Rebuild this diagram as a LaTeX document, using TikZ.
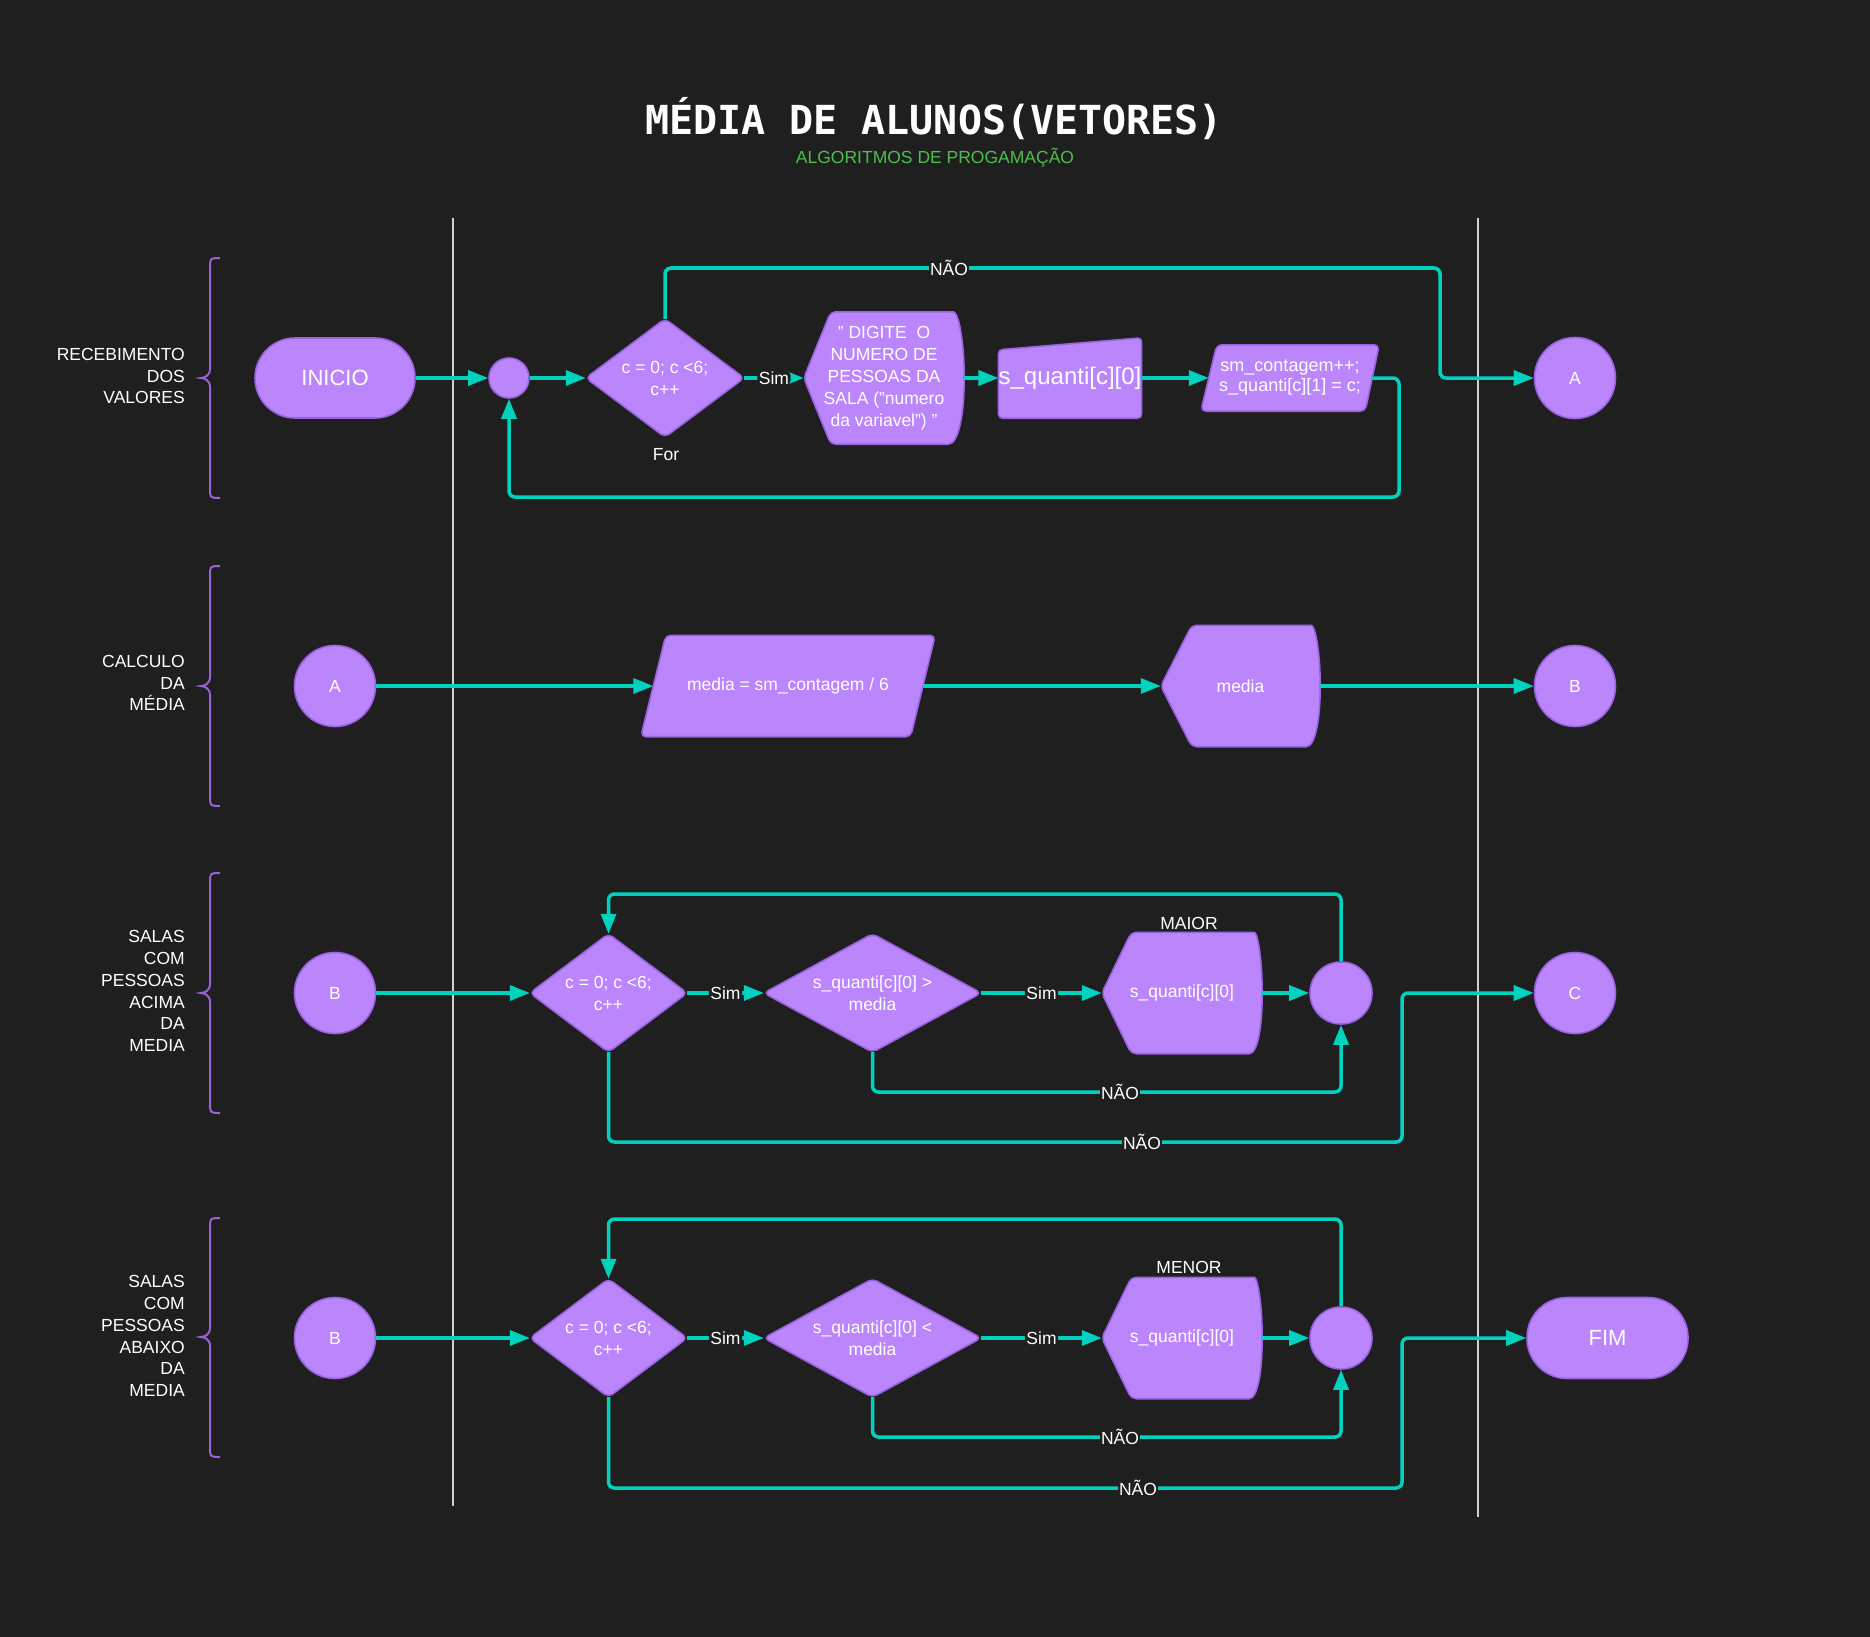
\documentclass[tikz,border=0pt]{standalone}
\usepackage{fontspec}
\setmainfont{Liberation Sans}
\newfontfamily\titlefont{DejaVu Sans Mono}
\usetikzlibrary{arrows.meta,calc}
\pgfdeclarelayer{back}
\pgfdeclarelayer{shp}
\pgfsetlayers{back,shp,main}
\definecolor{bgc}{HTML}{1F1F1F}
\definecolor{shfill}{HTML}{BB86FC}
\definecolor{shline}{HTML}{9B63E3}
\definecolor{tealc}{HTML}{00D2BE}
\definecolor{bracec}{HTML}{9A62D6}
\definecolor{subg}{HTML}{4CC04C}
\definecolor{divc}{HTML}{D0D0D0}
\tikzset{
 shapestyle/.style={fill=shfill, draw=shline, line width=1.6pt, line join=round},
 box/.style={inner sep=0pt, text=white, font=\fontsize{17.5}{22}\selectfont, align=center},
 conn/.style={draw=tealc, line width=3.5pt, rounded corners=6pt, -{Triangle[length=20pt,width=15pt]}},
 lbl/.style={fill=bgc, text=white, inner sep=1.5pt, font=\fontsize{17.5}{20}\selectfont},
 lanelbl/.style={anchor=east, align=right, inner sep=0pt, text=white, font=\fontsize{17.5}{21.8}\selectfont},
 bracestyle/.style={draw=bracec, line width=2pt},
 divider/.style={draw=divc, line width=2pt},
}
\newcommand\dispshape[3]{%
\begin{pgfonlayer}{shp}
\draw[shapestyle, rounded corners=5pt] (#1.west) -- ([xshift=#2pt]#1.north west) -- ([xshift=-#3pt]#1.north east) [sharp corners] .. controls ([xshift=-0.35*#3pt]#1.north east) and ($(#1.east)!0.55!(#1.north east)$) .. (#1.east) .. controls ($(#1.east)!0.55!(#1.south east)$) and ([xshift=-0.35*#3pt]#1.south east) .. ([xshift=-#3pt]#1.south east) [rounded corners=5pt] -- ([xshift=#2pt]#1.south west) -- cycle;
\end{pgfonlayer}}
\newcommand\parashape[3]{%
\begin{pgfonlayer}{shp}
\draw[shapestyle, rounded corners=5pt] ([xshift=#2pt]#1.north west) -- (#1.north east) -- ([xshift=-#3pt]#1.south east) -- (#1.south west) -- cycle;
\end{pgfonlayer}}
\newcommand\diashape[1]{%
\begin{pgfonlayer}{shp}
\draw[shapestyle, rounded corners=5pt] (#1.west) -- (#1.north) -- (#1.east) -- (#1.south) -- cycle;
\end{pgfonlayer}}
\newcommand\lanebrace[3]{%
\draw[bracestyle] (220,#1) .. controls (210,#1) .. (210,#1+10) -- (210,#3-9) .. controls (210,#3-2) and (204,#3) .. (201,#3) .. controls (204,#3) and (210,#3+2) .. (210,#3+9) -- (210,#2-10) .. controls (210,#2) .. (220,#2);}
\begin{document}
\begin{tikzpicture}[x=1pt,y=-1pt]
\begin{pgfonlayer}{back}
\fill[bgc] (0,0) rectangle (1870,1637);
\end{pgfonlayer}
\useasboundingbox (0,0) rectangle (1870,1637);

% title
\node[text=white, inner sep=0pt, font=\titlefont\bfseries\fontsize{40}{44}\selectfont] (title) at (934,119) {MÉDIA DE ALUNOS(VETORES)};
\node[text=subg, inner sep=0pt, font=\fontsize{17.5}{20}\selectfont] (sub) at (935,158) {ALGORITMOS DE PROGAMAÇÃO};

% dividers
\draw[divider] (453,218) -- (453,1506);
\draw[divider] (1478,218) -- (1478,1517);

% lane labels and braces
\node[lanelbl] (l1) at (185,376) {RECEBIMENTO\\DOS\\VALORES};
\node[lanelbl] (l2) at (185,683) {CALCULO\\DA\\MÉDIA};
\node[lanelbl] (l3) at (185,991) {SALAS\\COM\\PESSOAS\\ACIMA\\DA\\MEDIA};
\node[lanelbl] (l4) at (185,1336) {SALAS\\COM\\PESSOAS\\ABAIXO\\DA\\MEDIA};
\lanebrace{258}{498}{378}
\lanebrace{566}{806}{686}
\lanebrace{873}{1113}{993}
\lanebrace{1218}{1457}{1337}

% ---------- lane 1 ----------
\node[shapestyle, box, rounded corners=40pt, minimum width=160pt, minimum height=80pt, font=\fontsize{22}{26}\selectfont] (inicio) at (335,378) {INICIO};
\node[shapestyle, circle, minimum size=40pt, inner sep=0pt] (j1) at (509,378) {};
\node[box, minimum width=158pt, minimum height=118pt] (d1) at (665,378) {c = 0; c <6;\\c++};
\diashape{d1}
\node[box] (for) at (666,455) {For};
\node[box, minimum width=160pt, minimum height=132pt] (disp1) at (884,378) {"~DIGITE~ O\\NUMERO DE\\PESSOAS DA\\SALA ("numero\\da variavel") "};
\dispshape{disp1}{27}{16}
\node[box, minimum width=142pt, minimum height=80pt, font=\fontsize{24}{28}\selectfont] (inp1) at (1070,378) {s\_quanti[c][0]};
\begin{pgfonlayer}{shp}
\draw[shapestyle, rounded corners=4pt] ([yshift=-12pt]inp1.north west) -- (inp1.north east) -- (inp1.south east) -- (inp1.south west) -- cycle;
\end{pgfonlayer}
\node[box, minimum width=178pt, minimum height=66pt, font=\fontsize{18}{20}\selectfont] (par1) at (1290,378) {sm\_contagem++;\\s\_quanti[c][1] = c;};
\parashape{par1}{16}{14}
\node[shapestyle, box, circle, minimum size=81pt] (a1) at (1575,378) {A};

\draw[conn] (inicio.east) -- (j1.west);
\draw[conn] (j1.east) -- (d1.west);
\draw[conn] (d1.east) -- node[lbl]{Sim} (disp1.west);
\draw[conn] (disp1.east) -- (inp1.west);
\draw[conn] (inp1.east) -- ([xshift=8pt]par1.west);
\coordinate (r1) at (1440,268);
\draw[conn] (d1.north) |- (r1) |- (a1.west);
\node[lbl] (nao1) at (949,268) {NÃO};
\coordinate (r1b) at (1399,497);
\draw[conn] ([xshift=-7pt]par1.east) -| (r1b) -| (j1.south);

% ---------- lane 2 ----------
\node[shapestyle, box, circle, minimum size=81pt] (a2) at (335,686) {A};
\node[box, minimum width=294pt, minimum height=101pt] (par2) at (788,686) {media = sm\_contagem / 6};
\parashape{par2}{25}{24.5}
\node[box, minimum width=159pt, minimum height=121pt] (disp2) at (1240.5,686) {media};
\dispshape{disp2}{31}{14}
\node[shapestyle, box, circle, minimum size=81pt] (b2) at (1575,686) {B};
\draw[conn] (a2.east) -- ([xshift=12.5pt]par2.west);
\draw[conn] ([xshift=-12.5pt]par2.east) -- (disp2.west);
\draw[conn] (disp2.east) -- (b2.west);

% ---------- lane 3 ----------
\node[shapestyle, box, circle, minimum size=81pt] (b3) at (335,993) {B};
\node[box, minimum width=157pt, minimum height=118pt] (d3a) at (608.5,993) {c = 0; c <6;\\c++};
\diashape{d3a}
\node[box, minimum width=217pt, minimum height=118pt] (d3b) at (872.5,993) {s\_quanti[c][0] >\\media};
\diashape{d3b}
\node[box, minimum width=160pt, minimum height=121pt] (disp3) at (1182,993) {s\_quanti[c][0]};
\dispshape{disp3}{29.5}{13}
\node[box] (maior) at (1189,923) {MAIOR};
\node[shapestyle, circle, minimum size=62pt, inner sep=0pt] (j3) at (1341,993) {};
\node[shapestyle, box, circle, minimum size=81pt] (c3) at (1575,993) {C};
\draw[conn] (b3.east) -- (d3a.west);
\draw[conn] (d3a.east) -- node[lbl]{Sim} (d3b.west);
\draw[conn] (d3b.east) -- node[lbl]{Sim} (disp3.west);
\draw[conn] (disp3.east) -- (j3.west);
\coordinate (t3) at (1341,894);
\draw[conn] (j3.north) -- (t3) -| (d3a.north);
\coordinate (n3) at (1341,1092);
\draw[conn] (d3b.south) |- (n3) -- (j3.south);
\node[lbl] (nao3a) at (1120,1092) {NÃO};
\coordinate (x3) at (1402,1142);
\draw[conn] (d3a.south) |- (x3) |- (c3.west);
\node[lbl] (nao3b) at (1142,1142) {NÃO};

% ---------- lane 4 ----------
\node[shapestyle, box, circle, minimum size=81pt] (b4) at (335,1338) {B};
\node[box, minimum width=157pt, minimum height=118pt] (d4a) at (608.5,1338) {c = 0; c <6;\\c++};
\diashape{d4a}
\node[box, minimum width=217pt, minimum height=118pt] (d4b) at (872.5,1338) {s\_quanti[c][0] <\\media};
\diashape{d4b}
\node[box, minimum width=160pt, minimum height=121pt] (disp4) at (1182,1338) {s\_quanti[c][0]};
\dispshape{disp4}{29.5}{13}
\node[box] (menor) at (1189,1267) {MENOR};
\node[shapestyle, circle, minimum size=62pt, inner sep=0pt] (j4) at (1341,1338) {};
\node[shapestyle, box, rounded corners=40pt, minimum width=161pt, minimum height=81pt, font=\fontsize{22}{26}\selectfont] (fim) at (1607.5,1338) {FIM};
\draw[conn] (b4.east) -- (d4a.west);
\draw[conn] (d4a.east) -- node[lbl]{Sim} (d4b.west);
\draw[conn] (d4b.east) -- node[lbl]{Sim} (disp4.west);
\draw[conn] (disp4.east) -- (j4.west);
\coordinate (t4) at (1341,1219);
\draw[conn] (j4.north) -- (t4) -| (d4a.north);
\coordinate (n4) at (1341,1437);
\draw[conn] (d4b.south) |- (n4) -- (j4.south);
\node[lbl] (nao4a) at (1120,1437) {NÃO};
\coordinate (x4) at (1402,1488);
\draw[conn] (d4a.south) |- (x4) |- (fim.west);
\node[lbl] (nao4b) at (1138,1488) {NÃO};
\end{tikzpicture}
\end{document}
